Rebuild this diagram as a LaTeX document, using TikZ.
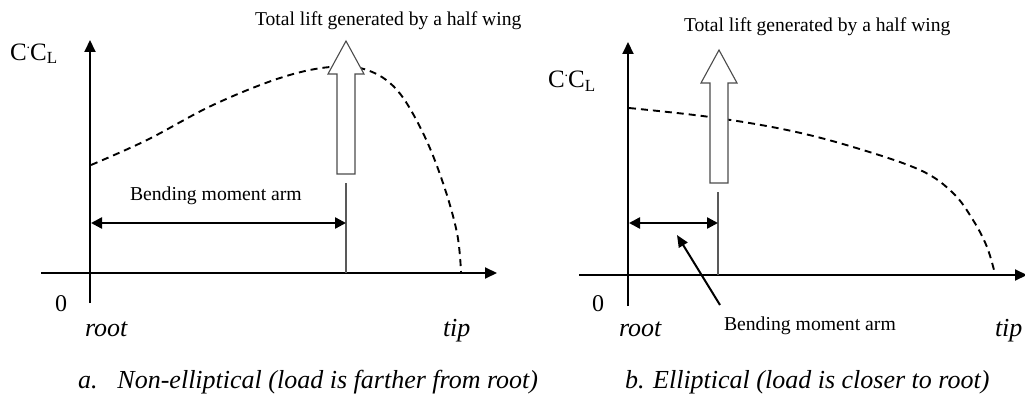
\documentclass[tikz,border=0pt]{standalone}
\usepackage{fontspec}
\setmainfont{Liberation Serif}
\usetikzlibrary{arrows.meta}
\begin{document}
\begin{tikzpicture}[x=1pt,y=-1pt,
  lbl/.style={inner sep=0pt,outer sep=0pt},
  toptxt/.style={lbl,font=\fontsize{19.6}{22}\selectfont},
  bendtxt/.style={lbl,font=\fontsize{19.7}{22}\selectfont},
  ittxt/.style={lbl,font=\fontsize{26}{30}\selectfont\itshape},
  numtxt/.style={lbl,font=\fontsize{24}{28}\selectfont},
  cltxt/.style={lbl,font=\fontsize{25}{28}\selectfont},
  axis/.style={line width=2pt,-{Triangle[length=12pt,width=11pt]}},
  dbl/.style={line width=2.4pt,{Triangle[length=11pt,width=11pt]}-{Triangle[length=11pt,width=11pt]}},
  ptr/.style={line width=2pt,-{Triangle[length=12pt,width=10pt]}},
  thin/.style={line width=1.3pt,draw=black!65},
  load/.style={line width=1.9pt,dash pattern=on 7pt off 5pt},
  hollow/.style={draw=black!70,line width=1.1pt,fill=white,line join=miter}
]
\useasboundingbox (0,0) rectangle (1025,396);

% ---------- panel a ----------
\coordinate (ay0) at (90,303);
\coordinate (ay1) at (90,40);
\coordinate (ax0) at (41,273);
\coordinate (ax1) at (497,273);
\draw[axis] (ay0) -- (ay1);
\draw[axis] (ax0) -- (ax1);

\draw[load] plot[smooth,tension=0.6] coordinates {(91,165) (147,140) (213,105) (280,78) (330,67) (367,70) (397,90) (423,133) (443,183) (457,233) (461,272)};

\draw[hollow] (337,174) -- (337,74) -- (328,74) -- (346,41) -- (364,74) -- (355,74) -- (355,174) -- cycle;

\coordinate (al0) at (346,183);
\coordinate (al1) at (346,273);
\draw[thin] (al0) -- (al1);
\coordinate (ad0) at (91,223);
\coordinate (ad1) at (346,223);
\draw[dbl] (ad0) -- (ad1);

\node[toptxt,anchor=base west] (lifta) at (255,26) {Total lift generated by a half wing};
\node[bendtxt,anchor=base west] (benda) at (130,200) {Bending moment arm};
\node[cltxt,anchor=base west] (cla) at (10,60) {C\raisebox{0.45em}{\fontsize{14}{14}\selectfont.}C\raisebox{-0.14em}{\fontsize{17}{17}\selectfont L}};
\node[numtxt,anchor=base] (zeroa) at (61,311) {0};
\node[ittxt,anchor=base west] (roota) at (85,336) {root};
\node[ittxt,anchor=base west] (tipa) at (443,336) {tip};
\node[ittxt,anchor=base west] (capa) at (78,388) {a.\hspace{20pt}Non-elliptical (load is farther from root)};

% ---------- panel b ----------
\coordinate (by0) at (628,306);
\coordinate (by1) at (628,42);
\coordinate (bx0) at (579,275);
\coordinate (bx1) at (1027,275);
\draw[axis] (by0) -- (by1);
\draw[axis] (bx0) -- (bx1);

\draw[load] plot[smooth,tension=0.6] coordinates {(629,108) (710,117) (787,130) (853,147) (920,170) (953,193) (973,220) (987,247) (995,274)};

\draw[hollow] (710,183) -- (710,83) -- (701,83) -- (719,50) -- (737,83) -- (728,83) -- (728,183) -- cycle;

\coordinate (bl0) at (718,192);
\coordinate (bl1) at (718,275);
\draw[thin] (bl0) -- (bl1);
\coordinate (bd0) at (629,223);
\coordinate (bd1) at (718,223);
\draw[dbl] (bd0) -- (bd1);

\node[toptxt,anchor=base west] (liftb) at (684,32) {Total lift generated by a half wing};
\node[bendtxt,anchor=base west] (bendb) at (724,330) {Bending moment arm};
\coordinate (ptrs) at (720,305);
\coordinate (ptre) at (677,235);
\draw[ptr] (ptrs) -- (ptre);
\node[cltxt,anchor=base west] (clb) at (548,88) {C\raisebox{0.45em}{\fontsize{14}{14}\selectfont.}C\raisebox{-0.14em}{\fontsize{17}{17}\selectfont L}};
\node[numtxt,anchor=base] (zerob) at (598,311) {0};
\node[ittxt,anchor=base west] (rootb) at (619,336) {root};
\node[ittxt,anchor=base west] (tipb) at (995,336) {tip};
\node[ittxt,anchor=base west] (capb) at (625,388) {b. Elliptical (load is closer to root)};
\end{tikzpicture}
\end{document}
